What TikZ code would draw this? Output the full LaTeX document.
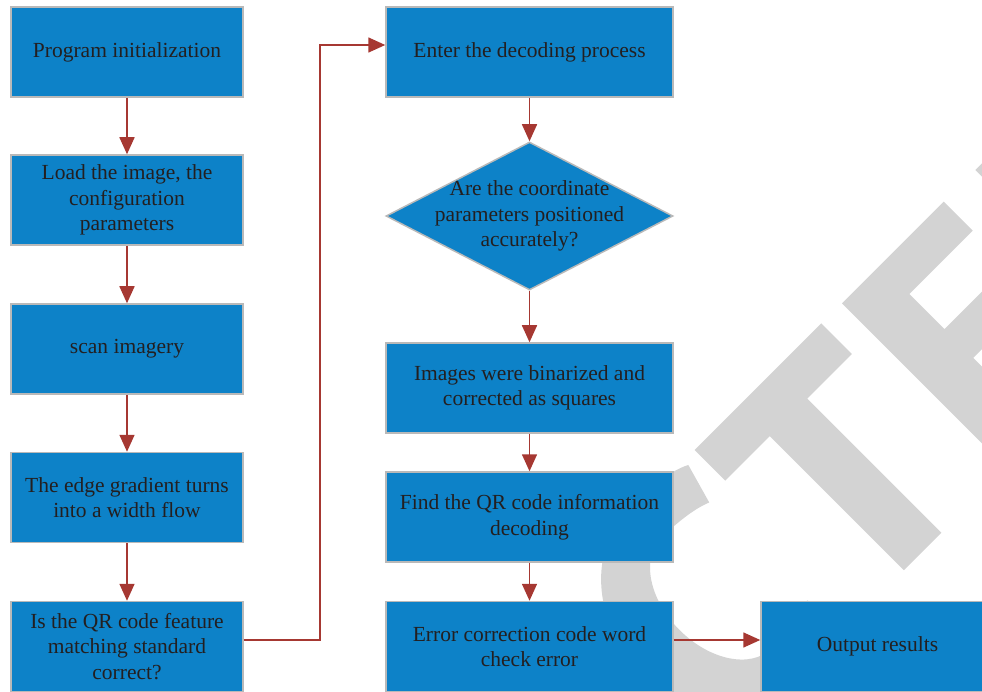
\documentclass[tikz,border=0pt]{standalone}
\usepackage{fontspec}
\setmainfont{Liberation Serif}
\usetikzlibrary{shapes.geometric,arrows.meta}
\definecolor{boxblue}{RGB}{13,130,200}
\definecolor{boxedge}{RGB}{185,185,185}
\definecolor{arrred}{RGB}{166,56,50}
\definecolor{wmgray}{RGB}{211,211,211}
\definecolor{txtcol}{RGB}{35,31,32}
\begin{document}
\begin{tikzpicture}[x=1pt,y=-1pt,
  fbox/.style={draw=boxedge, line width=1.5pt, fill=boxblue, text=txtcol, align=center, inner sep=0pt, font=\fontsize{21.5}{25.5}\selectfont},
  lbox/.style={fbox, minimum width=232pt, minimum height=90pt},
  rbox/.style={fbox, minimum width=287pt, minimum height=90pt},
  obox/.style={fbox, minimum width=233pt, minimum height=90pt},
  dshape/.style={draw=boxedge, line width=1.5pt, fill=boxblue, diamond, minimum width=287pt, minimum height=148pt, inner sep=0pt},
  dtext/.style={text=txtcol, align=center, inner sep=0pt, font=\fontsize{21.5}{25.5}\selectfont},
  arr/.style={draw=arrred, line width=1.6pt, -{Triangle[length=17pt,width=15pt]}},
  wm/.style={fill=wmgray}
]
\path[use as bounding box] (0,0) rectangle (982,692);
\clip (0,0) rectangle (982,692);
\fill[white] (0,0) rectangle (982,692);

% watermark letters
\begin{scope}[rotate=45]
  % C
  \fill[wm] (157.9,815.5) .. controls (140,806) and (110,804) .. (87,804)
    .. controls (27.4,804) and (-21,858.6) .. (-21,926)
    .. controls (-21,993.4) and (27.4,1048) .. (87,1048)
    .. controls (110,1048) and (140,1046) .. (157.9,1036.5)
    -- (146.2,995.2)
    .. controls (130,1002) and (105,1004) .. (87,1004)
    .. controls (58.3,1004) and (35,969.1) .. (35,926)
    .. controls (35,882.9) and (58.3,848) .. (87,848)
    .. controls (105,848) and (130,850) .. (146.2,856.8) -- cycle;
  % T
  \fill[wm] (173,809.4) -- (352.1,809.4) -- (352.1,852.7) -- (289,852.7)
    -- (289,1042.3) -- (235.9,1042.3) -- (235.9,852.7) -- (173,852.7) -- cycle;
  % E
  \fill[wm] (380.9,809.9) -- (524.7,809.9) -- (524.7,850.9) -- (435.1,850.9)
    -- (435.1,900.6) -- (510,900.6) -- (510,941.2) -- (435.1,941.2)
    -- (435.1,1001.3) -- (530,1001.3) -- (530,1042.3) -- (380.9,1042.3) -- cycle;
  % D
  \fill[wm] (569.4,809.9) rectangle (680,860);
\end{scope}

% left column
\node[lbox] (b1) at (127,52) {Program initialization};
\node[lbox] (b2) at (127,200) {Load the image, the\\configuration\\parameters};
\node[lbox] (b3) at (127,349) {scan imagery};
\node[lbox] (b4) at (127,497.5) {The edge gradient turns\\into a width flow};
\node[lbox] (b5) at (127,646.5) {Is the QR code feature\\matching standard\\correct?};

% right column
\node[rbox] (r1) at (529.5,52) {Enter the decoding process};
\node[dshape] (dia) at (529.5,216) {};
\node[dtext] (dtxt) at (dia.center) {Are the coordinate\\parameters positioned\\accurately?};
\node[rbox] (r2) at (529.5,388) {Images were binarized and\\corrected as squares};
\node[rbox] (r3) at (529.5,517) {Find the QR code information\\decoding};
\node[rbox] (r4) at (529.5,646.5) {Error correction code word\\check error};
\node[obox] (out) at (877.5,646.5) {Output results};

% connectors
\draw[arr] (b1) -- (b2);
\draw[arr] (b2) -- (b3);
\draw[arr] (b3) -- (b4);
\draw[arr] (b4) -- (b5);
\draw[arr] ([yshift=6.5pt]b5.east) -| ([xshift=-65pt,yshift=7pt]r1.west) -- ([yshift=7pt]r1.west);
\draw[arr] (r1) -- (dia);
\draw[arr] (dia) -- (r2);
\draw[arr] (r2) -- (r3);
\draw[arr] (r3) -- (r4);
\draw[arr] ([yshift=6.5pt]r4.east) -- ([yshift=6.5pt]out.west);
\end{tikzpicture}
\end{document}
